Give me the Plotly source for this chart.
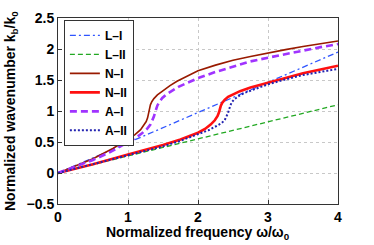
import plotly.graph_objects as go

# ---- data ----
li_x = [0, 4]
li_y = [0, 1.95]

lii_x = [0, 4]
lii_y = [0, 1.10]

ni_x = [0, 0.25, 0.5, 0.79, 1.0, 1.1, 1.18, 1.23, 1.26, 1.28, 1.29, 1.295, 1.305, 1.32, 1.34, 1.37, 1.42,
        1.5, 1.6, 1.7, 1.8, 1.9, 2.0, 2.25, 2.5, 2.75, 3.0, 3.25, 3.5, 3.75, 4.0]
ni_y = [0, 0.11, 0.23, 0.40, 0.54, 0.62, 0.70, 0.77, 0.83, 0.89, 0.95, 1.00, 1.05, 1.10, 1.15, 1.20, 1.26,
        1.33, 1.41, 1.48, 1.54, 1.60, 1.65, 1.74, 1.82, 1.88, 1.94, 1.99, 2.04, 2.09, 2.13]

nii_x = [0, 0.5, 1.0, 1.5, 1.75, 2.0, 2.1, 2.18, 2.24, 2.28, 2.30, 2.31, 2.325, 2.345, 2.38, 2.43,
         2.5, 2.6, 2.75, 3.0, 3.25, 3.5, 3.75, 4.0]
nii_y = [0, 0.14, 0.30, 0.45, 0.54, 0.65, 0.71, 0.78, 0.85, 0.92, 0.98, 1.03, 1.08, 1.13, 1.18, 1.23,
         1.27, 1.32, 1.38, 1.46, 1.54, 1.61, 1.67, 1.73]

ai_x = [0, 0.25, 0.5, 0.75, 1.0, 1.1, 1.2, 1.27, 1.32, 1.35, 1.37, 1.385, 1.40, 1.42, 1.45, 1.49, 1.55,
        1.63, 1.72, 1.8, 1.9, 2.0, 2.25, 2.5, 2.75, 3.0, 3.25, 3.5, 3.75, 4.0]
ai_y = [0, 0.10, 0.21, 0.34, 0.49, 0.56, 0.64, 0.71, 0.78, 0.85, 0.91, 0.97, 1.03, 1.09, 1.15, 1.21, 1.27,
        1.33, 1.39, 1.43, 1.48, 1.53, 1.63, 1.72, 1.80, 1.86, 1.92, 1.97, 2.03, 2.08]

aii_x = [0, 0.5, 1.0, 1.5, 1.75, 2.0, 2.15, 2.25, 2.33, 2.38, 2.41, 2.43, 2.445, 2.46, 2.48, 2.52, 2.58,
         2.66, 2.8, 3.0, 3.25, 3.5, 3.75, 4.0]
aii_y = [0, 0.14, 0.29, 0.43, 0.52, 0.62, 0.69, 0.75, 0.80, 0.85, 0.91, 0.97, 1.03, 1.09, 1.14, 1.19, 1.24,
         1.29, 1.35, 1.43, 1.51, 1.58, 1.63, 1.68]

x_ticks = [0, 1, 2, 3, 4]
y_ticks = [-0.5, 0, 0.5, 1, 1.5, 2, 2.5]
y_tick_text = ["\u22120.5", "0", "0.5", "1", "1.5", "2", "2.5"]

x_title = "Normalized frequency \u03c9/\u03c9<sub>0</sub>"
y_title = "Normalized wavenumber k<sub>b</sub>/k<sub>0</sub>"

FONT = "Liberation Sans, Arial, sans-serif"

fig = go.Figure()

def add(x, y, name, color, width, dash):
    fig.add_trace(go.Scatter(
        x=x, y=y, name=name, mode="lines",
        line=dict(color=color, width=width, dash=dash, shape="linear"),
    ))

add(li_x, li_y, "L\u2013I", "#2f55ff", 1.3, "6px,3px,2px,3px")
add(lii_x, lii_y, "L\u2013II", "#22a822", 1.3, "5px,3px")
add(ni_x, ni_y, "N\u2013I", "#991a00", 1.6, "solid")
add(nii_x, nii_y, "N\u2013II", "#ff1010", 2.6, "solid")
add(ai_x, ai_y, "A\u2013I", "#a033ff", 2.6, "7px,4px")
add(aii_x, aii_y, "A\u2013II", "#2323b0", 2.0, "2px,2px")

axis_common = dict(
    showline=True, linecolor="#333333", linewidth=1, mirror=True,
    ticks="inside", ticklen=4, tickcolor="#333333",
    showgrid=True, gridcolor="#c8c8c8", griddash="dot", gridwidth=1,
    zeroline=False, automargin=False,
    tickfont=dict(family=FONT, size=14, color="black", weight="bold"),
)

fig.update_layout(
    width=374, height=245,
    margin=dict(l=58, r=36, t=18, b=41),
    paper_bgcolor="white", plot_bgcolor="white",
    font=dict(family=FONT, size=14, color="black", weight="bold"),
    showlegend=True,
    legend=dict(
        x=0.021, y=0.99, xanchor="left", yanchor="top",
        bgcolor="white", bordercolor="#333333", borderwidth=1,
        font=dict(family=FONT, size=12, weight="bold"),
        tracegroupgap=0, itemwidth=30,
    ),
    xaxis=dict(range=[0, 4], tickvals=x_ticks, ticktext=[str(v) for v in x_ticks], **axis_common),
    yaxis=dict(range=[-0.5, 2.5], tickvals=y_ticks, ticktext=y_tick_text, **axis_common),
    annotations=[
        dict(text=x_title, xref="paper", yref="paper", x=0.5, y=0, xanchor="center", yanchor="top",
             yshift=-18, showarrow=False, font=dict(family=FONT, size=14, weight="bold", color="black")),
        dict(text=y_title, xref="paper", yref="paper", x=0, y=0.5, xanchor="center", yanchor="middle",
             xshift=-47, textangle=-90, showarrow=False,
             font=dict(family=FONT, size=14, weight="bold", color="black")),
    ],
)

fig.write_html("out.html", config={"displayModeBar": False},
               post_script="document.body.style.margin='0';document.body.style.padding='0';")
